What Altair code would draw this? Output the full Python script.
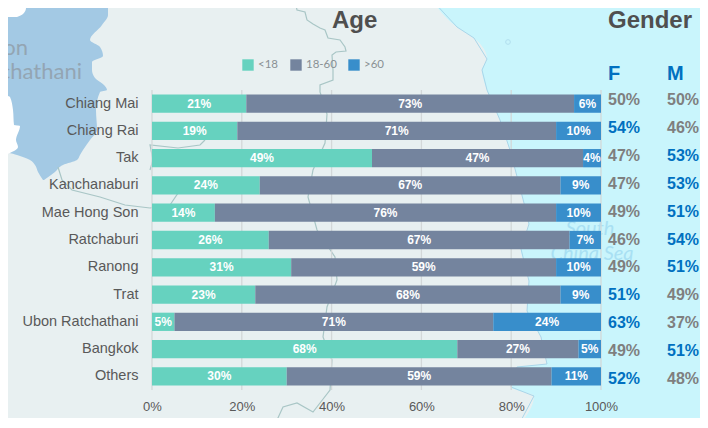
import altair as alt
import pandas as pd

cats = ["Chiang Mai","Chiang Rai","Tak","Kanchanaburi","Mae Hong Son","Ratchaburi","Ranong","Trat","Ubon Ratchathani","Bangkok","Others"]
under18 = [21,19,49,24,14,26,31,23,5,68,30]
mid = [73,71,47,67,76,67,59,68,71,27,59]
over60 = [6,10,4,9,10,7,10,9,24,5,11]
female = [50,54,47,47,49,46,49,51,63,49,52]
male = [50,46,53,53,51,54,51,49,37,51,48]
groups = ["<18","18-60",">60"]
colors = ["#66d2bf","#74849e","#388ecb"]

# backdrop map outlines, in map units
coast_y = [0,27,38,59,70,90,120,150,203,224,249,281,311,337,364,367,387,396,428]
coast_x = [432,457,474,487,482,487,500,510,524,529,521,529,527,541,547,517,511,534,517]
prov_y = [0,8,15,25,40,47,56,62,70,78,85,90,92,110,130,140,150,155,160,165,172,180]
prov_l = [0,0,0,0,0,0,0,0,0,0,0,0,0,0,0,0,0,17,30,35,38,43]
prov_r = [107,108,108,102,90,100,103,92,92,95,104,107,100,96,97,90,83,80,77,63,55,44]
white1_y = [0,8,14,17]
white1_x = [23,26,23,17]
white2_y = [95,97,110,125,126,140,147,155]
white2_x = [4,10,13,14,20,16,18,5]
river_a = [(295,0),(297,10),(305,12),(307,20),(313,24),(320,28),(325,30),(328,38),(340,40),(345,47),(346,51),(336,52),(332,55),(333,70),(333,80),(320,85),(320,92),(327,114),(325,143),(313,170),(308,197),(317,230),(335,257),(337,280),(327,307),(323,337),(332,360),(330,390),(320,403),(313,412),(297,403),(283,407),(277,420),(265,428)]
river_b = [(58,167),(62,180),(72,190),(100,197),(125,205),(150,208),(170,205),(180,190),(170,180)]
river_c = [(150,170),(153,160),(150,145),(178,148),(200,145),(205,140)]

rows = []
for i, c in enumerate(cats):
    s = 0
    for g, v in zip(groups, (under18[i], mid[i], over60[i])):
        rows.append(dict(cat=c, group=g, start=s, end=s + v, mid=s + v / 2, label=f"{v}%"))
        s += v
bars = pd.DataFrame(rows)
gender = pd.DataFrame(dict(cat=cats, f=female, m=male))
gender["fl"] = [f"{v}%" for v in female]
gender["ml"] = [f"{v}%" for v in male]

FONT = "Liberation Sans"
mx = alt.Scale(domain=[0, 708], range=[-152, 556], nice=False, zero=False)
my = alt.Scale(domain=[0, 428], range=[-90, 338], nice=False, zero=False)
X = alt.Scale(domain=[0, 100], range=[0, 449], nice=False)
Y = alt.Scale(domain=cats, range=[0, 300], paddingInner=0.33, paddingOuter=0.165)
YG = alt.Scale(domain=cats, range=[-4, 303], paddingInner=0, paddingOuter=0)


def band(y, x1, x2, color):
    d = pd.DataFrame(dict(y=y, a=x1, b=x2))
    return alt.Chart(d).mark_area(orient="horizontal", color=color, interpolate="monotone").encode(
        y=alt.Y("y:Q", scale=my, axis=None),
        x=alt.X("a:Q", scale=mx, axis=None),
        x2="b:Q",
    )


def line(pts, color, width=1.2):
    d = pd.DataFrame(pts, columns=["x", "y"]).reset_index()
    return alt.Chart(d).mark_line(color=color, strokeWidth=width).encode(
        x=alt.X("x:Q", scale=mx, axis=None),
        y=alt.Y("y:Q", scale=my, axis=None),
        order="index:Q",
    )


def note(text, x, y, size, color, align="left", weight="normal", style="normal", font=FONT):
    d = pd.DataFrame(dict(t=[text], x=[x], y=[y]))
    return alt.Chart(d).mark_text(
        align=align, baseline="middle", fontSize=size, color=color, fontWeight=weight, fontStyle=style, font=font
    ).encode(
        x=alt.X("x:Q", scale=mx, axis=None),
        y=alt.Y("y:Q", scale=my, axis=None),
        text="t:N",
    )


sea = band(coast_y, coast_x, [720] * len(coast_x), "#c9f5fc")
coast = line(list(zip(coast_x, coast_y)), "#a9d6ea", 1)
island = alt.Chart(pd.DataFrame(dict(x=[508], y=[42]))).mark_point(
    shape="circle", size=22, color="#a9d6ea", strokeWidth=1
).encode(x=alt.X("x:Q", scale=mx, axis=None), y=alt.Y("y:Q", scale=my, axis=None))
prov = band(prov_y, prov_l, prov_r, "#a3c9e4")
w1 = band(white1_y, [0] * 4, white1_x, "#ffffff")
w2 = band(white2_y, [0] * 8, white2_x, "#ffffff")
strip = band([8, 95], [0, 0], [3, 3], "#5ba3d6")

map_layers = [
    sea, coast, island, prov, w1, w2, strip,
    line(river_a, "#a9c6c6"), line(river_b, "#a9c6c6"), line(river_c, "#a9c6c6"),
    note("South", 590, 229, 20, "#a8e0f3", "center", style="italic", font="Lato"),
    note("China Sea", 592, 254, 20, "#a8e0f3", "center", style="italic", font="Lato"),
    note("Ubon", 28, 48, 22, "#93a5b3", "right", font="Lato"),
    note("Ratchathani", 82, 72, 22, "#93a5b3", "right", font="Lato"),
]

grid = alt.Chart(pd.DataFrame(dict(v=[0, 20, 40, 60, 80, 100]))).mark_rule(color="#d3d8d9", strokeWidth=1.3).encode(
    x=alt.X("v:Q", scale=X, axis=None)
)

bar = alt.Chart(bars).mark_bar().encode(
    y=alt.Y("cat:N", scale=Y, sort=cats, title=None, axis=alt.Axis(
        ticks=False, domain=False, grid=False, labelPadding=14, labelFontSize=14.5, zindex=1,
        labelColor="#595959", labelFont=FONT)),
    x=alt.X("start:Q", scale=X, title=None, axis=alt.Axis(
        values=[0, 20, 40, 60, 80, 100], ticks=False, domain=False, grid=False, labelExpr="datum.value + '%'",
        labelFlush=False, labelOverlap=False, labelBound=False, zindex=1,
        labelPadding=10, labelFontSize=13, labelColor="#595959", labelFont=FONT)),
    x2="end:Q",
    color=alt.Color("group:N", scale=alt.Scale(domain=groups, range=colors), legend=alt.Legend(
        orient="none", legendX=90, legendY=-31, direction="horizontal", columns=3, title=None,
        symbolType="square", symbolSize=130, symbolStrokeWidth=0, symbolOpacity=1, gridAlign="none",
        labelFont="Lato", labelFontSize=11.5, labelColor="#8a9094", columnPadding=11, labelOffset=4)),
)

val = alt.Chart(bars).mark_text(color="white", fontWeight="bold", fontSize=12, font=FONT, baseline="middle").encode(
    y=alt.Y("cat:N", scale=Y, sort=cats, axis=None),
    x=alt.X("mid:Q", scale=X, axis=None),
    text="label:N",
)


def gtext(field, label, px):
    return alt.Chart(gender).mark_text(align="left", baseline="middle", fontWeight="bold", fontSize=16, font=FONT).encode(
        y=alt.Y("cat:N", scale=YG, sort=cats, axis=None),
        x=alt.value(px),
        text=f"{label}:N",
        color=alt.condition(f"datum.{field} > 50", alt.value("#0070c0"), alt.value("#7f7f7f")),
    )


chart = alt.layer(
    *map_layers,
    grid, bar, val,
    gtext("f", "fl", 456), gtext("m", "ml", 515),
    note("Age", 332, 21, 24, "#4f4f4f", weight="bold"),
    note("Gender", 608, 21, 24, "#4f4f4f", weight="bold"),
    note("F", 608, 74, 20, "#0070c0", weight="bold"),
    note("M", 667, 74, 20, "#0070c0", weight="bold"),
).resolve_scale(x="independent", y="independent", color="independent").properties(
    width=449, height=300, background="#e8f0f1",
    padding={"left": 144, "top": 82, "right": 99, "bottom": 28},
    autosize=alt.AutoSizeParams(type="none"),
).configure_view(stroke=None)

chart.save("out.html", embed_options={"renderer": "svg", "actions": False})
